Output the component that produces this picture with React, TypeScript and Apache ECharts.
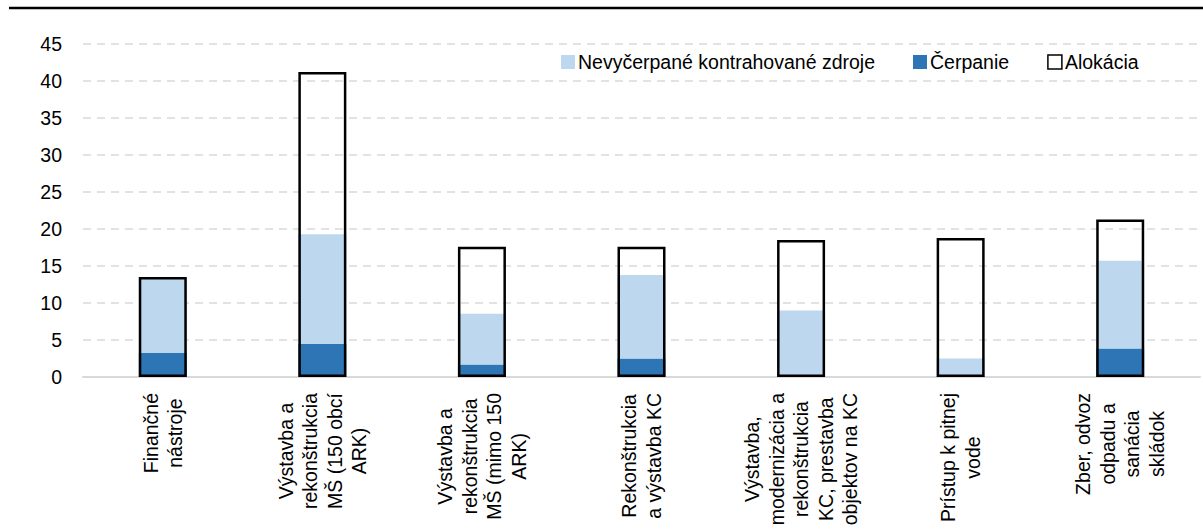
import React, { useEffect, useRef } from "react";
import * as echarts from "echarts";

const categories: string[] = [
  "Finančné\nnástroje",
  "Výstavba a\nrekonštrukcia\nMŠ (150 obcí\nARK)",
  "Výstavba a\nrekonštrukcia\nMŠ (mimo 150\nARK)",
  "Rekonštrukcia\na výstavba KC",
  "Výstavba,\nmodernizácia a\nrekonštrukcia\nKC, prestavba\nobjektov na KC",
  "Prístup k pitnej\nvode",
  "Zber, odvoz\nodpadu a\nsanácia\nskládok",
];

const cerpanie: number[] = [3.25, 4.45, 1.7, 2.5, 0.05, 0.1, 3.85];
const nevycerpane: number[] = [10.25, 14.85, 6.85, 11.3, 8.95, 2.4, 11.85];
const alokacia: number[] = [13.5, 41.2, 17.6, 17.6, 18.5, 18.8, 21.3];

const yTicks = { min: 0, max: 45, interval: 5 };

const FONT = "'Liberation Sans', Arial, sans-serif";

export default function App() {
  const ref = useRef<HTMLDivElement>(null);

  useEffect(() => {
    document.body.style.margin = "0";
    if (!ref.current) return;
    const chart = echarts.init(ref.current, null, { renderer: "svg" });
    chart.setOption({
      animation: false,
      textStyle: { fontFamily: FONT },
      grid: { left: 83, right: 3, top: 44, bottom: 154, containLabel: false },
      legend: {
        left: 556,
        top: 47,
        itemWidth: 14,
        itemHeight: 14,
        itemGap: 38,
        icon: "rect",
        textStyle: { fontFamily: FONT, fontSize: 19.5, color: "#000", padding: [0, 0, 0, -2] },
        data: [
          { name: "Nevyčerpané kontrahované zdroje" },
          { name: "Čerpanie" },
          {
            name: "Alokácia",
            itemStyle: { color: "#ffffff", borderColor: "#000", borderWidth: 1.5 },
          },
        ],
      },
      graphic: [
        {
          type: "line",
          shape: { x1: 9, y1: 8, x2: 1203, y2: 8 },
          style: { stroke: "#000", lineWidth: 2.5 },
        },
      ],
      xAxis: {
        type: "category",
        data: categories,
        axisLine: { show: true, lineStyle: { color: "#D9D9D9", width: 2 } },
        axisTick: { show: false },
        axisLabel: {
          rotate: 90,
          margin: 16,
          interval: 0,
          fontFamily: FONT,
          fontSize: 19.5,
          lineHeight: 24.5,
          color: "#000",
          formatter: (v: string) =>
            v
              .split("\n")
              .map((l) => "{c|" + l + "}")
              .join("\n"),
          rich: {
            c: {
              align: "center",
              fontFamily: FONT,
              fontSize: 19.5,
              lineHeight: 24.5,
              color: "#000",
            },
          },
        },
      },
      yAxis: {
        type: "value",
        min: yTicks.min,
        max: yTicks.max,
        interval: yTicks.interval,
        axisLine: { show: false },
        axisTick: { show: false },
        axisLabel: { margin: 21, fontFamily: FONT, fontSize: 19.5, color: "#000" },
        splitLine: {
          show: true,
          lineStyle: { color: "#D9D9D9", width: 1.5, type: [8, 6] },
        },
      },
      series: [
        {
          name: "Čerpanie",
          type: "bar",
          stack: "s",
          barWidth: 48,
          data: cerpanie,
          itemStyle: { color: "#2E75B6" },
        },
        {
          name: "Nevyčerpané kontrahované zdroje",
          type: "bar",
          stack: "s",
          barWidth: 48,
          data: nevycerpane,
          itemStyle: { color: "#BDD7EE" },
        },
        {
          name: "Alokácia",
          type: "bar",
          barWidth: 48,
          barGap: "-100%",
          data: alokacia,
          itemStyle: { color: "rgba(255,255,255,0)", borderColor: "#000", borderWidth: 2.5 },
          z: 3,
        },
      ],
    });
    return () => chart.dispose();
  }, []);

  return <div ref={ref} style={{ width: 1203, height: 531 }} />;
}
